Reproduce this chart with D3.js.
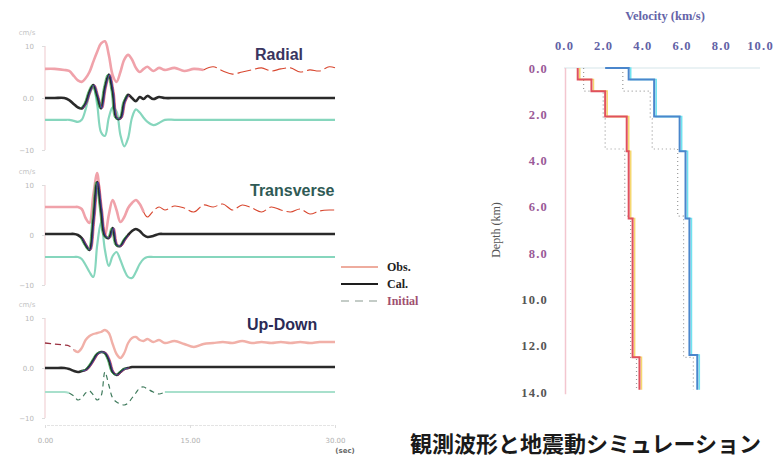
<!DOCTYPE html>
<html>
<head>
<meta charset="utf-8">
<script src="https://cdn.jsdelivr.net/npm/d3@7"></script>
<style>
    body { margin: 0; background: #fff; overflow: hidden; }
</style>
</head>
<body>
<svg class="chart"></svg>
<script>
// time samples (sec) shared by every trace
const times = [0, 1, 2, 2.5, 3, 3.4, 3.8, 4.2, 4.6, 5, 5.4, 5.8, 6.2, 6.6, 7, 7.4, 7.8, 8.2, 8.6, 9,
    9.4, 9.8, 10.2, 10.6, 11.2, 11.8, 12.4, 13.4, 14.4, 15.4, 16.4, 17.4, 18.4, 19.4, 20.4,
    21.4, 22.4, 23.4, 24.4, 25.4, 26.4, 27.4, 28.4, 29.4, 30];

// amplitudes (cm/s)
const radialObs = [0, 0, -0.2, -0.4, -1.4, -2.2, -2.5, -1.8, -0.6, 1.4, 3.3, 4.9, 5.3, 2.7, -1.2,
    -2.5, -0.6, 1.8, 2.7, 1.8, 0.2, -0.6, 0, 0.4, -0.4, 0.2, -0.2, 0.2, -0.4, 0,
    -0.2, 0.4, -0.4, -1, -0.6, -0.2, 0.2, -0.4, 0, 0.2, -0.6, -0.2, -0.4, 0.4, 0.2];
const radialCal = [0, 0, 0, -0.4, -1.2, -1.8, -2, -1, 1.2, 2.5, 0.4, -2, 2, 4.5, 1.2,
    -3.9, -3.9, -0.8, 0.6, 0, -0.6, 0.2, -0.2, 0.4, -0.2, 0.2, 0, 0, 0, 0,
    0, 0, 0, 0, 0, 0, 0, 0, 0, 0, 0, 0, 0, 0, 0];
const radialInit = [0, 0, 0, 0, -0.2, -0.4, 0, 2, 4.9, 6.3, 2.9, -2.4, -3.1, 0.4, 2.4,
    1.6, -2.9, -5.1, -3.5, 0.4, 2, 1.4, 0.4, -0.4, -1, -0.6, 0, 0, 0, 0,
    0, 0, 0, 0, 0, 0, 0, 0, 0, 0, 0, 0, 0, 0, 0];

const transObs = [0, 0, 0, 0, 0, 0, -0.4, -2.2, -3.2, 2.4, 6.8, -1.6, -5.8, -1.6, 1.4,
    -0.6, -3, -2, -0.2, 0.8, 1.4, 0.6, -1, -2, -0.8, 0, -0.6, 0.2, -0.2, -1,
    0.4, 0, 0.6, -0.6, 0.4, -0.2, -1, 0, -0.6, -1, -0.4, -1.4, -0.8, -0.6, -0.6];
const transCal = [0, 0, 0, 0, 0, -0.2, -0.8, -2.2, -3.2, 2.8, 10.4, 4.8, -0.4, -0.8, 1.2,
    -2.2, -2.4, -1.2, -0.2, 0.6, 1, 0.6, -0.2, -0.6, -0.4, 0, 0, 0, 0, 0,
    0, 0, 0, 0, 0, 0, 0, 0, 0, 0, 0, 0, 0, 0, 0];
const transInit = [0, 0, 0, 0, 0, 0, -0.4, -1.6, -3, -4, 2.4, 7, 1.4, -1.8, 0.2,
    1, -0.6, -2.6, -4, -4.2, -3, -1.4, -0.4, 0, 0, 0, 0, 0, 0, 0,
    0, 0, 0, 0, 0, 0, 0, 0, 0, 0, 0, 0, 0, 0, 0];

const udObs = [0, -0.2, -0.4, -0.6, -1.4, -1.8, -1, 0.6, 1.4, 1.8, 2, 2.2, 2.6, 2, -0.2,
    -2.2, -3, -2, 0, 1, 1.2, 0.6, 0.4, 0.8, 0.2, 0.6, 0, 0.4, -0.2, -0.8,
    -0.2, 0, 0.2, 0, 0.4, 0, 0.2, 0, 0.2, 0, 0.2, 0, 0.2, 0.2, 0.2];
const udCal = [0, 0, 0, -0.2, -0.6, -0.8, -0.6, -0.4, 0.4, 1.6, 2.8, 3.2, 3, 1.6, -0.8,
    -1.4, -0.8, -0.2, 0, 0.2, 0.2, 0.2, 0.2, 0.2, 0.2, 0.2, 0.2, 0.2, 0.2, 0.2,
    0.2, 0.2, 0.2, 0.2, 0.2, 0.2, 0.2, 0.2, 0.2, 0.2, 0.2, 0.2, 0.2, 0.2, 0.2];
const udInit = [0, 0, 0, -0.2, -0.8, -1.6, -1.2, -0.2, 0.2, -0.6, -1.6, -0.8, 4, 1.4, -1.2,
    -2, -2.4, -2.6, -2.2, -1.2, -0.2, 0.8, 1, 0.6, 0, -0.4, 0, 0, 0, 0,
    0, 0, 0, 0, 0, 0, 0, 0, 0, 0, 0, 0, 0, 0, 0];

const timeTicks = [0, 15, 30];
const ampTicks = [-10, 0, 10];
const legendLabels = [`Obs.`, `Cal.`, `Initial`];

// velocity structure (layer top depth km, velocity km/s)
const vsTop = [0, 0.5, 1.0, 2.1, 3.6, 6.5, 12.5];
const vsVel = [0.7, 1.4, 2.1, 3.2, 3.3, 3.5, 3.85];
const vpTop = [0, 0, 0.5, 2.1, 3.6, 6.5, 12.4];
const vpVel = [2.1, 3.3, 4.6, 5.9, 6.2, 6.4, 6.8];
const initVsTop = [0, 1.0, 2.2, 3.5, 6.4, 12.5];
const initVsVel = [1.0, 2.0, 2.1, 3.1, 3.4, 3.7];
const initVpTop = [0, 1.0, 2.2, 3.5, 6.4, 12.5];
const initVpVel = [3.0, 4.4, 4.5, 5.8, 6.1, 6.6];
const profileBottom = 13.9;
const velTicks = [0, 2, 4, 6, 8, 10];
const depthTicks = [0, 2, 4, 6, 8, 10, 12, 14];

const width = 782;
const height = 457;

const chart = d3.select(`.chart`)
    .attr(`width`, width)
    .attr(`height`, height)
    .style(`display`, `block`);

// ---------- waveforms ----------
const xTime = d3.scaleLinear().domain([0, 30]).range([45, 335]);

const panels = [
    { title: `Radial`, titleX: 255, titleY: 60, titleColor: `#3a3560`, top: 46, bottom: 150,
      obs: radialObs, cal: radialCal, init: radialInit, obsOffset: 5.6, calOffset: 0, initOffset: -4.2,
      obsSplit: 30, obsHeadDashed: false, initDashed: false, zeroLabel: `0.0` },
    { title: `Transverse`, titleX: 250, titleY: 196, titleColor: `#2f5a55`, top: 185, bottom: 285,
      obs: transObs, cal: transCal, init: transInit, obsOffset: 5.6, calOffset: 0.2, initOffset: -4.4,
      obsSplit: 22, obsHeadDashed: false, initDashed: false, zeroLabel: `0` },
    { title: `Up-Down`, titleX: 247, titleY: 330, titleColor: `#2b2b55`, top: 318, bottom: 418,
      obs: udObs, cal: udCal, init: udInit, obsOffset: 5, calOffset: 0, initOffset: -4.8,
      obsSplit: 4, obsHeadDashed: true, initDashed: true, zeroLabel: `0.0` },
];

const segment = (values, from, to) => values.map((v, i) => (i >= from && i <= to) ? v : null);

panels.forEach((p) => {
    const yAmp = d3.scaleLinear().domain([-10, 10]).range([p.bottom, p.top]);
    const g = chart.append(`g`);

    // faint axis
    g.append(`line`)
        .attr(`x1`, 45).attr(`x2`, 45)
        .attr(`y1`, p.top).attr(`y2`, p.bottom)
        .attr(`stroke`, `#f1d2d6`)
        .attr(`stroke-width`, 1.2);

    const yAxis = g.append(`g`)
        .attr(`transform`, `translate(45, 0)`)
        .call(d3.axisLeft(yAmp).tickValues(ampTicks).tickSize(3).tickPadding(8)
            .tickFormat(d => d === 0 ? p.zeroLabel : d3.format(`d`)(d)));
    yAxis.select(`.domain`).remove();
    yAxis.selectAll(`line`).attr(`stroke`, `#ddd`);
    yAxis.selectAll(`text`)
        .attr(`fill`, `#b8b8b8`)
        .attr(`font-size`, 7)
        .attr(`font-family`, `DejaVu Sans`);

    g.append(`text`)
        .attr(`x`, 27).attr(`y`, p.top - 11)
        .attr(`text-anchor`, `middle`)
        .attr(`font-size`, 7)
        .attr(`font-family`, `DejaVu Sans`)
        .attr(`fill`, `#c4c4c4`)
        .text(`cm/s`);

    const line = (offset) => d3.line()
        .defined(d => d !== null)
        .x((d, i) => xTime(times[i]))
        .y(d => yAmp(d + offset))
        .curve(d3.curveCatmullRom.alpha(0.5));

    // initial model
    if (p.initDashed) {
        g.append(`path`)
            .attr(`d`, line(p.initOffset)(segment(p.init, 0, 3)))
            .attr(`fill`, `none`).attr(`stroke`, `#a8e0cc`).attr(`stroke-width`, 2);
        g.append(`path`)
            .attr(`d`, line(p.initOffset)(segment(p.init, 3, 26)))
            .attr(`fill`, `none`).attr(`stroke`, `#3f7a5c`).attr(`stroke-width`, 1.2)
            .attr(`stroke-dasharray`, `5,4`);
        g.append(`path`)
            .attr(`d`, line(p.initOffset)(segment(p.init, 26, 44)))
            .attr(`fill`, `none`).attr(`stroke`, `#a8e0cc`).attr(`stroke-width`, 2);
    } else {
        g.append(`path`)
            .attr(`d`, line(p.initOffset)(p.init))
            .attr(`fill`, `none`).attr(`stroke`, `#86d6bd`).attr(`stroke-width`, 2.2);
    }

    // observed
    if (p.obsHeadDashed) {
        g.append(`path`)
            .attr(`d`, line(p.obsOffset)(segment(p.obs, 0, p.obsSplit)))
            .attr(`fill`, `none`).attr(`stroke`, `#9a3040`).attr(`stroke-width`, 1.3)
            .attr(`stroke-dasharray`, `6,4`);
        g.append(`path`)
            .attr(`d`, line(p.obsOffset)(segment(p.obs, p.obsSplit, 44)))
            .attr(`fill`, `none`).attr(`stroke`, `#f1b0a8`).attr(`stroke-width`, 2.4);
    } else {
        g.append(`path`)
            .attr(`d`, line(p.obsOffset)(segment(p.obs, 0, p.obsSplit)))
            .attr(`fill`, `none`).attr(`stroke`, `#f0a2aa`).attr(`stroke-width`, 2.6);
        g.append(`path`)
            .attr(`d`, line(p.obsOffset)(segment(p.obs, p.obsSplit, 44)))
            .attr(`fill`, `none`).attr(`stroke`, `#d8472f`).attr(`stroke-width`, 1.1)
            .attr(`stroke-dasharray`, `14,4`);
    }

    // calculated
    g.append(`path`)
        .attr(`d`, line(p.calOffset)(p.cal))
        .attr(`fill`, `none`).attr(`stroke`, `#2a2a2a`).attr(`stroke-width`, 2.6);

    // colour fringes of the scan on the active part
    [[`#e0304a`, 1.5], [`#30b050`, -1.5], [`#3050d0`, 0.8]].forEach(([c, dx]) => {
        g.append(`path`)
            .attr(`transform`, `translate(${dx}, 0)`)
            .attr(`d`, line(p.calOffset)(segment(p.cal, 6, 18)))
            .attr(`fill`, `none`).attr(`stroke`, c).attr(`stroke-width`, 1).attr(`opacity`, 0.7);
    });

    g.append(`text`)
        .attr(`x`, p.titleX).attr(`y`, p.titleY)
        .attr(`font-family`, `Liberation Sans, Arial, sans-serif`)
        .attr(`font-weight`, 600)
        .attr(`font-size`, 16)
        .attr(`fill`, p.titleColor)
        .text(p.title);
});

// time axis
const xAxis = chart.append(`g`)
    .attr(`transform`, `translate(0, 425)`)
    .call(d3.axisBottom(xTime).tickValues(timeTicks).tickSize(3).tickPadding(10)
        .tickFormat(d3.format(`.2f`)));
xAxis.select(`.domain`).attr(`stroke`, `#e4e4e4`).attr(`stroke-dasharray`, `3,1`);
xAxis.selectAll(`line`).attr(`stroke`, `#ddd`);
xAxis.selectAll(`text`)
    .attr(`fill`, `#b0b0b0`)
    .attr(`font-size`, 7)
    .attr(`font-family`, `DejaVu Sans`);

chart.append(`text`)
    .attr(`x`, 345).attr(`y`, 453)
    .attr(`text-anchor`, `middle`)
    .attr(`font-size`, 7)
    .attr(`font-weight`, `bold`)
    .attr(`font-family`, `DejaVu Sans`)
    .attr(`fill`, `#666`)
    .text(`(sec)`);

// legend
const legendStyles = [
    { color: `#e8907e`, width: 1.4, dash: null, text: `#222` },
    { color: `#1e1e1e`, width: 2, dash: null, text: `#222` },
    { color: `#8a9a90`, width: 1.2, dash: `8,6`, text: `#a05070` },
];
legendLabels.forEach((label, i) => {
    const y = 267 + i * 17;
    chart.append(`line`)
        .attr(`x1`, 341).attr(`x2`, 378)
        .attr(`y1`, y).attr(`y2`, y)
        .attr(`stroke`, legendStyles[i].color)
        .attr(`stroke-width`, legendStyles[i].width)
        .attr(`stroke-dasharray`, legendStyles[i].dash);
    chart.append(`text`)
        .attr(`x`, 387).attr(`y`, y + 4)
        .attr(`font-family`, `Liberation Serif, Times New Roman, serif`)
        .attr(`font-weight`, `bold`)
        .attr(`font-size`, 12)
        .attr(`fill`, legendStyles[i].text)
        .text(label);
});

// ---------- velocity profile ----------
const velScale = d3.scaleLinear().domain([0, 10]).range([564, 760]);
const depthScale = d3.scaleLinear().domain([0, 14]).range([68, 392]);

chart.append(`text`)
    .attr(`x`, 665).attr(`y`, 20)
    .attr(`text-anchor`, `middle`)
    .attr(`font-family`, `Liberation Serif, Times New Roman, serif`)
    .attr(`font-weight`, `bold`)
    .attr(`font-size`, 12.5)
    .attr(`fill`, `#6464a8`)
    .text(`Velocity (km/s)`);

const velAxis = chart.append(`g`)
    .attr(`transform`, `translate(0, 53)`)
    .call(d3.axisTop(velScale).tickValues(velTicks).tickSize(0).tickPadding(3)
        .tickFormat(d3.format(`.1f`)));
velAxis.select(`.domain`).remove();
velAxis.selectAll(`text`)
    .attr(`fill`, `#6262a6`)
    .attr(`font-size`, 12.5)
    .attr(`font-weight`, `bold`)
    .attr(`letter-spacing`, 1.2)
    .attr(`font-family`, `Liberation Serif, Times New Roman, serif`);

const depthAxis = chart.append(`g`)
    .attr(`transform`, `translate(565, 0)`)
    .call(d3.axisLeft(depthScale).tickValues(depthTicks).tickSize(0).tickPadding(17)
        .tickFormat(d3.format(`.1f`)));
depthAxis.select(`.domain`).remove();
depthAxis.selectAll(`text`)
    .attr(`fill`, (d) => d <= 8 ? `#9a5a98` : `#555`)
    .attr(`font-size`, 12.5)
    .attr(`font-weight`, `bold`)
    .attr(`letter-spacing`, 1.2)
    .attr(`font-family`, `Liberation Serif, Times New Roman, serif`);

chart.append(`text`)
    .attr(`transform`, `translate(500, 230) rotate(-90)`)
    .attr(`text-anchor`, `middle`)
    .attr(`font-family`, `Liberation Serif, Times New Roman, serif`)
    .attr(`font-size`, 12)
    .attr(`fill`, `#555`)
    .text(`Depth (km)`);

// frame lines
chart.append(`line`)
    .attr(`x1`, velScale(0)).attr(`x2`, velScale(10))
    .attr(`y1`, depthScale(0)).attr(`y2`, depthScale(0))
    .attr(`stroke`, `#e3eef0`).attr(`stroke-width`, 1.5);
chart.append(`line`)
    .attr(`x1`, velScale(0) + 1.5).attr(`x2`, velScale(0) + 1.5)
    .attr(`y1`, depthScale(0)).attr(`y2`, depthScale(14.1))
    .attr(`stroke`, `#f3c6cf`).attr(`stroke-width`, 1.5);

const stepPoints = (tops, vels, bottom) => tops.flatMap((t, i) => [
    [vels[i], t],
    [vels[i], i < tops.length - 1 ? tops[i + 1] : bottom],
]);
const profileLine = d3.line()
    .x(d => velScale(d[0]))
    .y(d => depthScale(d[1]));

// initial model (dotted)
[[initVsTop, initVsVel], [initVpTop, initVpVel]].forEach(([tops, vels]) => {
    chart.append(`path`)
        .attr(`d`, profileLine(stepPoints(tops, vels, profileBottom)))
        .attr(`fill`, `none`)
        .attr(`stroke`, `#9a9a9a`)
        .attr(`stroke-width`, 1.2)
        .attr(`stroke-dasharray`, `1,3`);
});

// inverted model with scan fringes
const profiles = [
    { tops: vsTop, vels: vsVel, main: `#e0505e`, fringe: `#f5d870` },
    { tops: vpTop, vels: vpVel, main: `#4a86cc`, fringe: `#70e4f0` },
];
profiles.forEach((pr) => {
    const d = profileLine(stepPoints(pr.tops, pr.vels, profileBottom));
    chart.append(`path`)
        .attr(`d`, d)
        .attr(`transform`, `translate(2, 0)`)
        .attr(`fill`, `none`)
        .attr(`stroke`, pr.fringe)
        .attr(`stroke-width`, 1.6);
    chart.append(`path`)
        .attr(`d`, d)
        .attr(`fill`, `none`)
        .attr(`stroke`, pr.main)
        .attr(`stroke-width`, 2);
});

// caption
chart.append(`text`)
    .attr(`x`, 410).attr(`y`, 452)
    .attr(`font-family`, `Noto Sans CJK JP`)
    .attr(`font-weight`, `bold`)
    .attr(`font-size`, 22)
    .attr(`fill`, `#1a1a1a`)
    .text(`観測波形と地震動シミュレーション`);
</script>
</body>
</html>
